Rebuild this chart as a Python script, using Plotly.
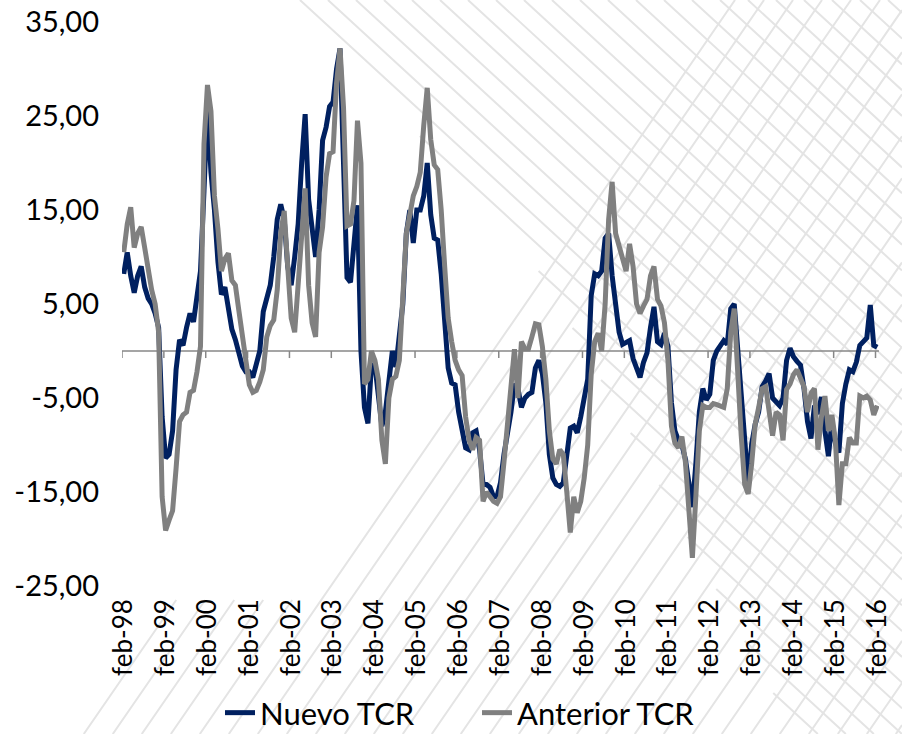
import plotly.graph_objects as go

# ---------------- data ----------------
month_index = list(range(217))  # feb-98 .. feb-16, monthly

nuevo_tcr = [
    8.2, 10.5, 8.0, 6.2, 8.0, 9.0, 6.8, 5.6, 5.0, 4.0,
    2.5, -7.0, -11.4, -11.0, -8.5, -2.0, 1.2, 0.6, 2.5, 4.0,
    3.1, 5.5, 8.5, 17.0, 26.0, 19.0, 15.0, 9.5, 6.0, 6.8,
    4.5, 2.3, 1.2, -0.5, -1.6, -2.2, -2.2, -2.8, -1.2, 0.0,
    4.2, 5.5, 7.0, 10.0, 14.0, 15.6, 14.0, 9.0, 7.0, 10.0,
    13.5, 20.0, 25.2, 16.1, 13.5, 10.0, 15.0, 22.4, 23.8, 26.0,
    26.5, 30.0, 32.2, 20.0, 7.8, 7.3, 11.0, 15.5, 0.0, -6.0,
    -7.7, -1.5, -1.5, -5.0, -8.0, -6.5, -3.0, 0.0, -1.7, 1.5,
    5.0, 12.5, 15.0, 11.5, 15.0, 15.0, 16.5, 20.0, 14.5, 12.0,
    11.8, 8.2, 3.5, -1.8, -3.4, -3.6, -6.5, -8.8, -10.3, -10.5,
    -8.7, -8.5, -10.5, -14.2, -14.2, -14.5, -15.5, -15.5, -14.0, -11.0,
    -9.0, -6.5, -3.5, -4.0, -6.0, -5.0, -4.6, -4.4, -1.8, -1.0,
    -2.4, -5.5, -11.0, -13.5, -14.2, -14.4, -14.0, -11.5, -8.2, -8.0,
    -8.7, -7.0, -5.3, -3.0, 5.9, 8.2, 8.0, 8.5, 12.0, 12.5,
    8.0, 4.5, 2.0, 0.7, 0.9, 1.1, -0.8, -2.0, -2.8, -1.2,
    -0.2, 2.5, 4.7, 1.0, 0.7, 1.9, 0.5, -5.5, -8.5, -9.5,
    -10.0, -11.5, -14.2, -16.6, -12.0, -6.5, -4.0, -5.2, -4.6, -1.0,
    0.0, 0.5, 1.1, 0.7, 4.5, 5.0, 0.5, -4.8, -9.5, -14.2,
    -9.9, -7.8, -6.5, -3.8, -3.2, -2.4, -5.0, -5.4, -5.8, -5.0,
    -1.0, 0.3, -0.6, -1.1, -1.5, -4.0, -7.5, -9.3, -5.8, -6.7,
    -4.9, -8.5, -11.2, -7.5, -9.8, -10.8, -5.6, -3.5, -2.0, -2.2,
    -1.2, 0.6, 1.1, 1.4, 4.9, 0.6, 0.4,
]

anterior_tcr = [
    10.5, 13.5, 15.3, 11.0, 12.5, 13.2, 11.0, 8.5, 6.5, 5.0,
    2.0, -15.5, -19.1, -18.0, -17.0, -12.5, -7.5, -6.8, -6.5, -4.4,
    -4.2, -2.2, 0.5, 22.0, 28.3, 25.5, 16.5, 13.0, 8.5, 9.8,
    10.4, 7.5, 7.0, 4.3, 1.5, -0.8, -3.6, -4.4, -4.2, -3.3,
    -2.0, 1.5, 2.7, 3.3, 6.5, 12.5, 14.9, 9.0, 3.5, 2.0,
    7.5, 13.5, 17.3, 7.0, 3.0, 1.5, 10.5, 13.2, 18.5, 21.0,
    21.2, 28.5, 32.2, 25.9, 13.3, 13.5, 16.0, 24.5, 20.0, -3.5,
    -3.0, 0.0, -1.0, -3.0, -9.5, -12.0, -5.0, -3.0, -2.7, -1.0,
    5.0, 12.5, 14.5, 16.5, 17.5, 19.0, 24.0, 28.0, 22.5, 19.8,
    19.3, 15.0, 9.0, 3.5, 1.0, -1.0, -2.0, -2.6, -7.0, -9.5,
    -10.5, -9.2, -9.5, -16.0, -15.0, -15.5, -16.0, -16.2, -15.5, -11.8,
    -7.5, -3.0, 0.2, -5.0, 1.0, 0.2, 0.2, 1.5, 2.9, 2.8,
    0.5, -3.0, -8.5, -11.5, -12.0, -10.5, -11.0, -15.0, -19.3, -15.5,
    -17.2, -16.0, -13.5, -10.0, -2.5, 1.0, 1.9, 0.0, 5.0, 14.0,
    18.0, 12.5, 11.2, 10.0, 8.5, 11.4, 9.0, 5.0, 4.0, 4.8,
    5.5, 8.0, 9.0, 5.5, 4.8, 3.0, -1.0, -8.0, -9.8, -10.3,
    -9.1, -11.8, -17.0, -22.0, -15.5, -8.5, -5.8, -6.0, -6.0, -5.6,
    -5.7, -5.8, -6.0, -4.0, 2.0, 4.5, -3.6, -9.0, -14.2, -15.2,
    -12.0, -7.8, -6.0, -4.0, -3.8, -6.5, -9.0, -6.5, -6.8, -9.5,
    -4.1, -3.5, -2.5, -2.0, -2.8, -3.8, -6.5, -4.5, -4.0, -10.5,
    -7.0, -4.8, -8.5, -6.8, -9.5, -16.4, -12.0, -12.0, -9.2, -9.8,
    -9.8, -4.8, -5.0, -4.8, -5.2, -6.8, -5.8,
]

tick_years = ["98", "99", "00", "01", "02", "03", "04", "05", "06", "07",
              "08", "09", "10", "11", "12", "13", "14", "15", "16"]
x_tick_labels = ["feb-" + y for y in tick_years]
x_tick_vals = [12 * k for k in range(len(tick_years))]

y_tick_vals = [-25, -15, -5, 5, 15, 25, 35]
y_tick_labels = [f"{v:.2f}".replace(".", ",") for v in y_tick_vals]

# ---------------- layout geometry ----------------
W, H = 902, 734
L, R, T, B = 122, 23, 22, 148
PW, PH = W - L - R, H - T - B


def px(x):
    return (x - L) / PW


def py(y):
    return (H - B - y) / PH


# ---------------- background hatch (decoration) ----------------
def boundary_a(y):
    if y <= 280:
        return 300 + y * 0.88
    return 546 + (y - 280) * 0.55


SLOPE_A = 0.92   # down-right
SLOPE_B = 1.45   # up-right
segs_a = []
for k in range(-40, 40):
    a = 300 + 28 * k
    ys = None
    for yy in range(0, H + 1):
        if a + yy / SLOPE_A >= boundary_a(yy):
            ys = yy
            break
    if ys is None:
        continue
    xs = a + ys / SLOPE_A
    if xs > W:
        continue
    ye = H
    xe = a + H / SLOPE_A
    if xe > W:
        xe = W
        ye = (W - a) * SLOPE_A
    segs_a.append((xs, ys, xe, ye))

segs_b = []
for k in range(-5, 30):
    c = 735 + 29 * k
    if c >= 735:
        y0 = 0
    else:
        y0 = 600
    x0 = c - y0 / SLOPE_B
    y1 = H
    x1 = c - H / SLOPE_B
    if x1 < 0:
        x1 = 0
        y1 = c * SLOPE_B
    if x0 > W:
        x0 = W
        y0 = (c - W) * SLOPE_B
    if y0 >= y1:
        continue
    segs_b.append((x0, y0, x1, y1))


def path_of(segs):
    parts = []
    for (x0, y0, x1, y1) in segs:
        parts.append(f"M{px(x0):.4f},{py(y0):.4f} L{px(x1):.4f},{py(y1):.4f}")
    return " ".join(parts)


hatch_color = "#e4e4e4"
shapes = [
    dict(type="path", xref="paper", yref="paper", path=path_of(segs_a),
         line=dict(color=hatch_color, width=2), layer="below"),
    dict(type="path", xref="paper", yref="paper", path=path_of(segs_b),
         line=dict(color=hatch_color, width=2), layer="below"),
]

# category axis drawn across y = 0, with small downward ticks every 12 months
axis_color = "#878787"
shapes.append(dict(type="line", xref="x", yref="y", x0=-0.5, x1=216.5, y0=0, y1=0,
                   line=dict(color=axis_color, width=1.5), layer="below"))
for k in range(len(tick_years)):
    xv = 12 * k - 0.5
    shapes.append(dict(type="line", xref="x", yref="y", x0=xv, x1=xv, y0=0, y1=-0.75,
                       line=dict(color=axis_color, width=1.5), layer="below"))

# ---------------- figure ----------------
fig = go.Figure()
fig.add_trace(go.Scatter(x=month_index, y=nuevo_tcr, mode="lines", name="Nuevo TCR",
                         line=dict(color="#002060", width=5)))
fig.add_trace(go.Scatter(x=month_index, y=anterior_tcr, mode="lines", name="Anterior TCR",
                         line=dict(color="#808080", width=5)))

font_family = "Lato, 'Open Sans', sans-serif"
fig.update_layout(
    width=W, height=H,
    margin=dict(l=L, r=R, t=T, b=B, pad=0),
    paper_bgcolor="white",
    plot_bgcolor="rgba(0,0,0,0)",
    font=dict(family=font_family, color="black", size=24),
    shapes=shapes,
    showlegend=True,
    legend=dict(orientation="h", xref="container", yref="container",
                x=220 / W, xanchor="left", y=(H - 713) / H, yanchor="middle",
                font=dict(size=31, family=font_family, color="black"),
                bgcolor="rgba(0,0,0,0)", entrywidth=212, entrywidthmode="pixels",
                tracegroupgap=0),
    xaxis=dict(range=[-0.5, 216.5], tickvals=x_tick_vals, ticktext=x_tick_labels,
               tickangle=-90, showgrid=False, zeroline=False, showline=False,
               ticks="", ticklabelstandoff=7, tickfont=dict(size=26),
               automargin=False),
    yaxis=dict(range=[-25, 35], tickvals=y_tick_vals, ticktext=y_tick_labels,
               showgrid=False, zeroline=False, showline=False, ticks="",
               ticklabelstandoff=22, tickfont=dict(size=29), automargin=False),
)

fig.write_html("out.html",
               config={"displayModeBar": False},
               post_script="document.body.style.margin='0';document.body.style.padding='0';"
                           "document.body.style.overflow='hidden';")
